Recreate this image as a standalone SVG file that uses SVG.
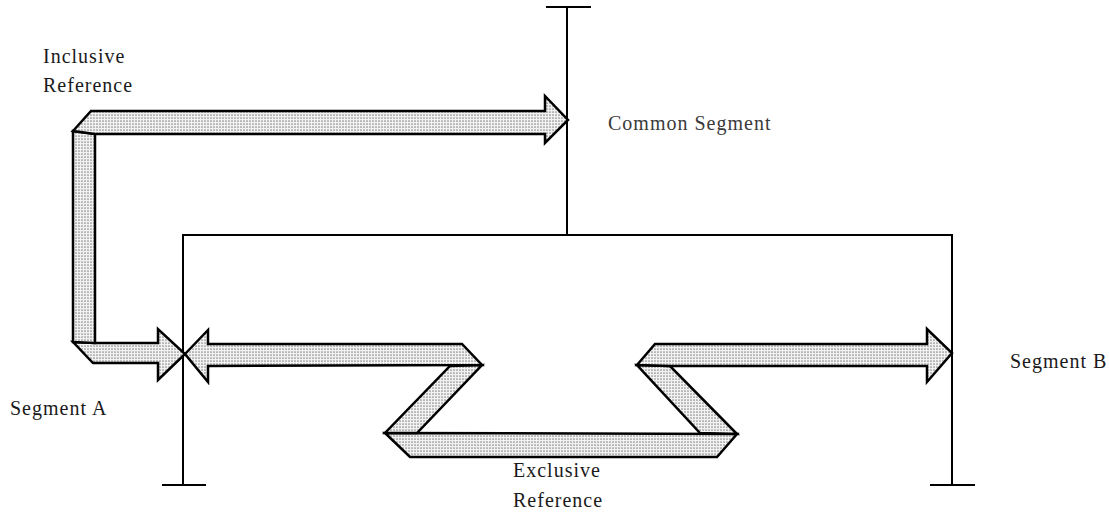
<svg xmlns="http://www.w3.org/2000/svg" width="1109" height="519" viewBox="0 0 1109 519">
  <defs>
    <pattern id="stipple" width="3" height="3" patternUnits="userSpaceOnUse">
      <rect width="3" height="3" fill="#f2f2f2"/>
      <circle cx="1" cy="1" r="0.85" fill="#8a8a8a"/>
    </pattern>
    <style>
      .band { fill: url(#stipple); stroke: #000; stroke-width: 2.5; stroke-linejoin: miter; stroke-miterlimit: 10; }
      .seg { fill: none; stroke: #000; stroke-width: 2; }
      .lbl { font-family: "Liberation Serif", "Times New Roman", serif; font-size: 20px; letter-spacing: 1px; fill: #1a1a1a; }
      .lbl-grey { fill: #3a3a3a; }
    </style>
  </defs>
  <rect width="1109" height="519" fill="#fff"/>

  <g id="segment-structure">
    <line class="seg" x1="546" y1="7" x2="591" y2="7"/>
    <line class="seg" x1="567" y1="7" x2="567" y2="235"/>
    <polyline class="seg" points="183,485 183,235 952,235 952,485"/>
    <line class="seg" x1="162" y1="485" x2="206" y2="485"/>
    <line class="seg" x1="930" y1="485" x2="975" y2="485"/>
  </g>

  <g id="inclusive-reference-arrow">
    <polygon class="band" points="73,342 95,343 158,343 158,329 185,354 158,380 158,363 93,363"/>
    <polygon class="band" points="73,131 95,134 95,343 73,342"/>
    <polygon class="band" points="73,131 91,111 545,111 545,96 568,120 545,143 545,134 95,134"/>
  </g>

  <g id="exclusive-reference-arrow">
    <polygon class="band" points="385,433 737,434 717,457 410,457"/>
    <polygon class="band" points="450,366 482,365 417,433 385,433"/>
    <polygon class="band" points="637,365 670,366 737,434 700,433"/>
    <polygon class="band" points="185,354 208,330 208,344 462,344 482,365 208,366 208,382"/>
    <polygon class="band" points="637,365 655,344 927,344 927,329 952,353 927,382 927,366 670,366"/>
  </g>

  <g id="label-inclusive-reference">
    <text class="lbl" x="43" y="63">Inclusive</text>
    <text class="lbl" x="43" y="92">Reference</text>
  </g>
  <g id="label-common-segment">
    <text class="lbl lbl-grey" x="608" y="130">Common Segment</text>
  </g>
  <g id="label-segment-a">
    <text class="lbl" x="10" y="415">Segment A</text>
  </g>
  <g id="label-segment-b">
    <text class="lbl" x="1010" y="368">Segment B</text>
  </g>
  <g id="label-exclusive-reference">
    <text class="lbl" x="513" y="477">Exclusive</text>
    <text class="lbl" x="513" y="507">Reference</text>
  </g>
</svg>
